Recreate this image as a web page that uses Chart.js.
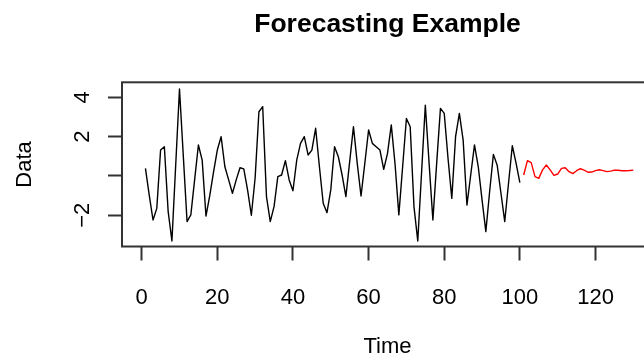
<!DOCTYPE html>
<html>
<head>
<meta charset="utf-8">
<title>Forecasting Example</title>
<script src="https://cdn.jsdelivr.net/npm/chart.js@4"></script>
<style>
  html, body { margin: 0; padding: 0; background: #fff; overflow: hidden; }
  #wrap { width: 775px; height: 358px; }
</style>
</head>
<body>
<div id="wrap"><canvas id="forecastChart" width="775" height="358"></canvas></div>
<script>
// observed series, t = 1..100
const obsStart = 1;
const observed = [
  0.39, -0.97, -2.24, -1.65, 1.32, 1.49, -1.8, -3.31, 0.56, 4.43,
  1.05, -2.32, -1.98, -0.2, 1.58, 0.81, -2.04, -1.0, 0.2, 1.32,
  2.0, 0.47, -0.2, -0.88, -0.2, 0.42, 0.36, -0.71, -2.0, -0.1,
  3.27, 3.53, -1.05, -2.32, -1.56, -0.03, 0.05, 0.78, -0.2, -0.75,
  0.81, 1.66, 2.0, 1.07, 1.32, 2.43, 0.47, -1.39, -1.87, -0.71,
  1.49, 0.98, 0.05, -1.05, 0.73, 2.51, 0.64, -1.02, 0.64, 2.34,
  1.66, 1.49, 1.32, 0.34, 1.15, 2.6, 0.6, -1.98, 0.47, 2.93,
  2.51, -1.56, -3.31, 0.14, 3.61, 0.64, -2.24, 0.64, 3.44, 3.19,
  0.9, -1.14, 2.0, 3.19, 1.83, -1.48, 0.05, 1.58, 0.47, -1.22,
  -2.83, -0.8, 1.1, 0.55, -0.88, -2.32, -0.37, 1.54, 0.64, -0.34
];

// forecast, t = 101..130
const fcStart = 101;
const forecast = [
  0.05, 0.78, 0.68, -0.03, -0.12, 0.31, 0.56, 0.31, 0.03, 0.1,
  0.39, 0.42, 0.22, 0.12, 0.27, 0.37, 0.3, 0.19, 0.2, 0.27,
  0.32, 0.27, 0.22, 0.25, 0.3, 0.29, 0.27, 0.27, 0.28, 0.3
];

const xTicks = [0, 20, 40, 60, 80, 100, 120];
const xTickLabels = ['0', '20', '40', '60', '80', '100', '120'];
const yTicks = [-2, 0, 2, 4];
const yTickLabels = ['\u22122', '', '2', '4']; // R drops the 0 label

const family = '"Liberation Sans", Arial, Helvetica, sans-serif';

// box round the plot + tick labels placed like base R
const boxAndLabels = {
  id: 'boxAndLabels',
  afterDraw(chart) {
    const { ctx, chartArea: a } = chart;
    const xs = chart.scales.x;
    const ys = chart.scales.y;
    ctx.save();
    ctx.strokeStyle = '#333';
    ctx.lineWidth = 2;
    ctx.strokeRect(a.left, a.top, a.right - a.left, a.bottom - a.top);

    ctx.fillStyle = '#000';
    ctx.font = '22px ' + family;
    ctx.textAlign = 'center';
    ctx.textBaseline = 'alphabetic';
    xTicks.forEach((v, i) => {
      ctx.fillText(xTickLabels[i], xs.getPixelForValue(v), xs.top + 57.5);
    });
    yTicks.forEach((v, i) => {
      if (!yTickLabels[i]) return;
      ctx.save();
      ctx.translate(ys.right - 33.5, ys.getPixelForValue(v));
      ctx.rotate(-Math.PI / 2);
      ctx.fillText(yTickLabels[i], 0, 0);
      ctx.restore();
    });
    ctx.restore();
  }
};

new Chart(document.getElementById('forecastChart'), {
  type: 'line',
  data: {
    datasets: [
      {
        label: 'Data',
        data: observed.map((v, i) => ({ x: obsStart + i, y: v })),
        borderColor: '#000',
        borderWidth: 1.4,
        pointRadius: 0,
        tension: 0,
        borderJoinStyle: 'round'
      },
      {
        label: 'Forecast',
        data: forecast.map((v, i) => ({ x: fcStart + i, y: v })),
        borderColor: '#ff0000',
        borderWidth: 1.4,
        pointRadius: 0,
        tension: 0,
        borderJoinStyle: 'round'
      }
    ]
  },
  options: {
    responsive: false,
    animation: false,
    devicePixelRatio: 1,
    layout: { padding: 0 },
    plugins: {
      legend: { display: false },
      tooltip: { enabled: false },
      title: {
        display: true,
        text: 'Forecasting Example',
        color: '#000',
        font: { family, size: 26.5, weight: 'bold', lineHeight: 1.2 },
        padding: { top: 9, bottom: 41.5 }
      }
    },
    scales: {
      x: {
        type: 'linear',
        min: -5.2,
        max: 135.2,
        afterBuildTicks: s => { s.ticks = xTicks.map(v => ({ value: v })); },
        afterFit: s => { s.height = 111.5; },
        grid: { drawOnChartArea: false, drawTicks: true, tickLength: 14, tickColor: '#333', tickWidth: 2 },
        border: { display: false },
        ticks: { display: false },
        title: {
          display: true,
          text: 'Time',
          color: '#000',
          font: { family, size: 22, lineHeight: 1 },
          padding: { top: 0, bottom: 0.5 }
        }
      },
      y: {
        type: 'linear',
        min: -3.59,
        max: 4.77,
        afterBuildTicks: s => { s.ticks = yTicks.map(v => ({ value: v })); },
        afterFit: s => { s.width = 122; },
        grid: { drawOnChartArea: false, drawTicks: true, tickLength: 14, tickColor: '#333', tickWidth: 2 },
        border: { display: false },
        ticks: { display: false },
        title: {
          display: true,
          text: 'Data',
          color: '#000',
          font: { family, size: 22, lineHeight: 1.2 },
          padding: { top: 11.5, bottom: 0 }
        }
      },
      // empty right margin so the plot runs past the window edge, as in the original
      yRight: {
        type: 'linear',
        position: 'right',
        display: true,
        min: 0,
        max: 1,
        afterFit: s => { s.width = 122; },
        grid: { display: false },
        border: { display: false },
        ticks: { display: false }
      }
    }
  },
  plugins: [boxAndLabels]
});
</script>
</body>
</html>
